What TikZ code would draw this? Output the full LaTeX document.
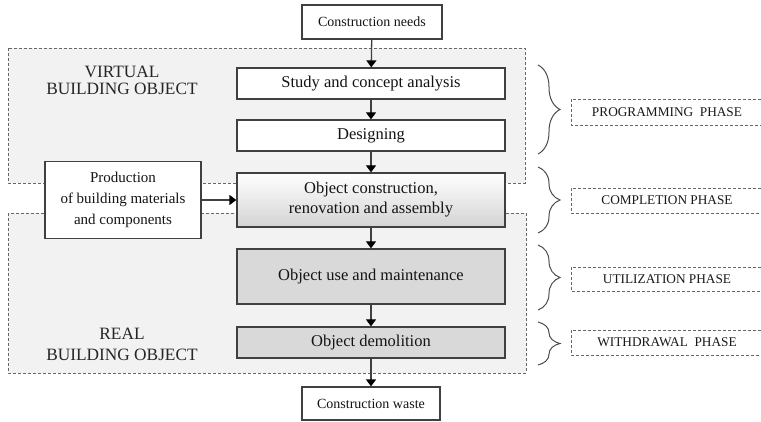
\documentclass[tikz,border=0pt]{standalone}
\usepackage{fontspec}
\setmainfont{Liberation Serif}
\usetikzlibrary{arrows.meta,decorations.pathreplacing}
\begin{document}
\begin{tikzpicture}[x=1pt,y=-1pt,
  box/.style={draw=black!75,line width=1.3pt,fill=white,inner sep=0pt,align=center,font=\fontsize{16.5}{20}\selectfont,text=black!92},
  small/.style={box,font=\fontsize{14}{20}\selectfont},
  region/.style={draw=black!60,line width=0.9pt,dash pattern=on 3pt off 2pt,fill=black!5},
  arr/.style={draw=black!75,line width=1.3pt,-{Triangle[length=7pt,width=10pt,fill=black,color=black]}},
  brc/.style={draw=black!70,line width=1pt,decorate,decoration={brace,amplitude=22pt}},
  phase/.style={font=\fontsize{13.3}{15}\selectfont,text=black!90},
  ph/.style={draw=black!60,line width=0.9pt,dash pattern=on 3pt off 2pt},
  title/.style={align=center,text=black!85,font=\fontsize{17.3}{17}\selectfont}]
\useasboundingbox (0,0) rectangle (761,422);
\fill[white] (0,0) rectangle (761,422);
% regions
\draw[region] (8,48) rectangle (525,183);
\draw[region] (8,213) rectangle (526,373);
\node[title] (virt) at (122,80) {VIRTUAL\\BUILDING OBJECT};
\node[title,font=\fontsize{17.3}{21}\selectfont] (real) at (122,344) {REAL\\BUILDING OBJECT};
% main boxes
\node[small,minimum width=140pt,minimum height=34pt] (needs) at (372,22) {Construction needs};
\node[box,minimum width=268pt,minimum height=31pt] (study) at (371,83.5) {Study and concept analysis};
\node[box,minimum width=268pt,minimum height=31pt] (design) at (371,135.5) {Designing};
\node[box,minimum width=268pt,minimum height=54pt,top color=white,bottom color=black!17] (constr) at (371,200) {Object construction,\\renovation and assembly};
\node[box,minimum width=268pt,minimum height=55pt,fill=black!15] (use) at (371,276.5) {Object use and maintenance};
\node[box,minimum width=268pt,minimum height=31pt,fill=black!15] (demol) at (371,342.5) {Object demolition};
\node[small,minimum width=138pt,minimum height=33pt] (waste) at (371,403.5) {Construction waste};
\node[small,font=\fontsize{15}{21}\selectfont,minimum width=156pt,minimum height=77pt] (prod) at (123,200) {Production\\of building materials\\and components};
% arrows
\draw[arr] (needs) -- (study);
\draw[arr] (study) -- (design);
\draw[arr] (design) -- (constr);
\draw[arr] (constr) -- (use);
\draw[arr] (use) -- (demol);
\draw[arr] (demol) -- (waste);
\draw[arr] (prod) -- (constr);
% braces
\draw[brc] (538,65) -- (538,154);
\draw[brc] (538,167) -- (538,233);
\draw[brc] (538,245) -- (538,310);
\draw[brc] (538,322) -- (538,365);
% phase boxes
\draw[ph] (761,99) -- (571,99) -- (571,125) -- (761,125);
\draw[ph] (761,188) -- (571,188) -- (571,213) -- (761,213);
\draw[ph] (761,267) -- (571,267) -- (571,291) -- (761,291);
\draw[ph] (761,330) -- (571,330) -- (571,355) -- (761,355);
\node[phase] (p1) at (667,112) {PROGRAMMING\ \ PHASE};
\node[phase] (p2) at (667,200.5) {COMPLETION PHASE};
\node[phase] (p3) at (667,279) {UTILIZATION PHASE};
\node[phase] (p4) at (667,342.5) {WITHDRAWAL\ \ PHASE};
\end{tikzpicture}
\end{document}
